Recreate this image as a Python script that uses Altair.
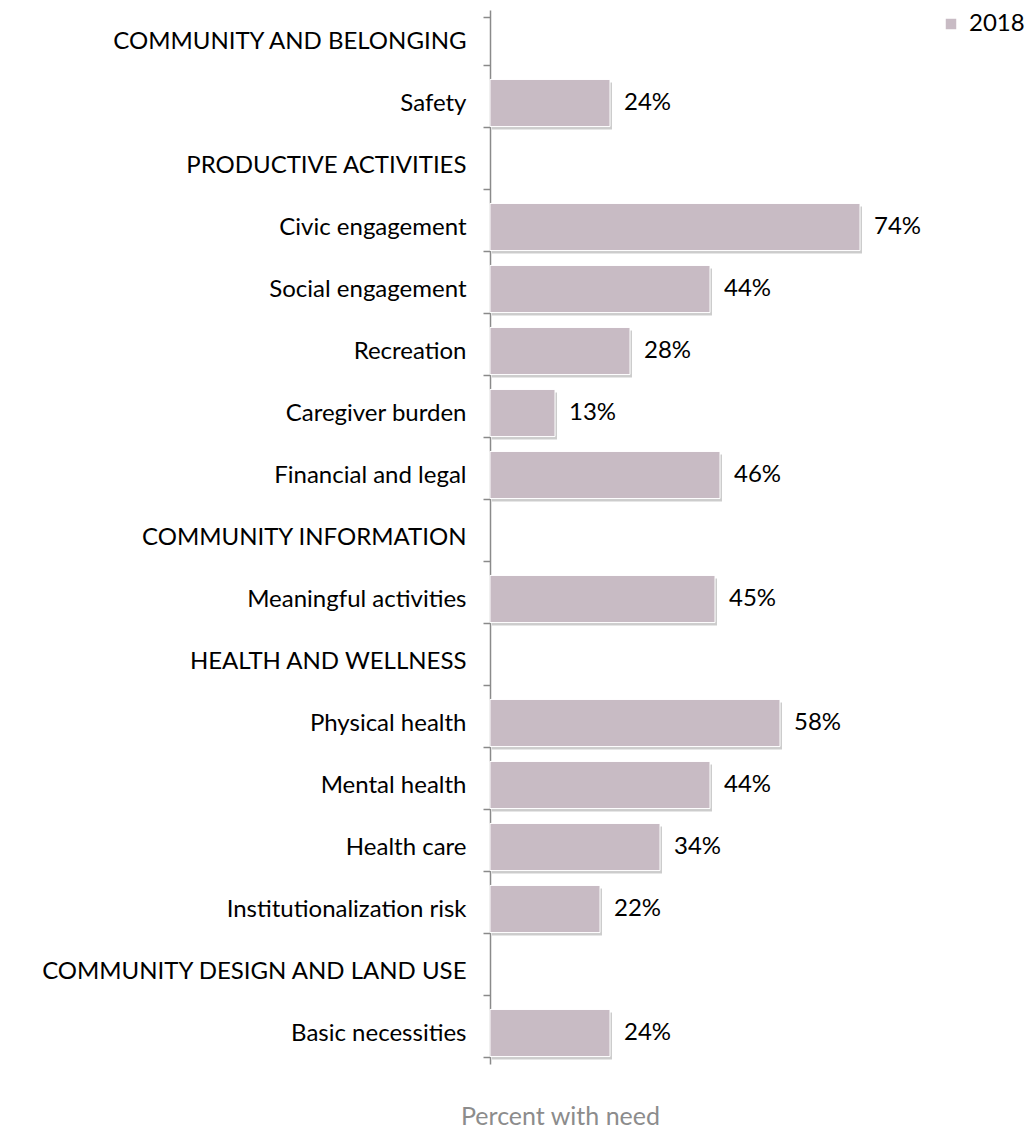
import altair as alt
import pandas as pd

categories = [
    "COMMUNITY AND BELONGING", "Safety",
    "PRODUCTIVE ACTIVITIES", "Civic engagement", "Social engagement", "Recreation",
    "Caregiver burden", "Financial and legal",
    "COMMUNITY INFORMATION", "Meaningful activities",
    "HEALTH AND WELLNESS", "Physical health", "Mental health", "Health care",
    "Institutionalization risk",
    "COMMUNITY DESIGN AND LAND USE", "Basic necessities",
]
values = [None, 24, None, 74, 44, 28, 13, 46, None, 45, None, 58, 44, 34, 22, None, 24]
series = "2018"

df = pd.DataFrame({"category": categories, "value": values})
df["series"] = series
bars_df = df.dropna().copy()
bars_df["label"] = bars_df["value"].astype(int).astype(str) + "%"

FONT = "Lato"
FS = 24
BAR = "#c8bbc4"

y_enc = alt.Y(
    "category:N",
    sort=categories,
    scale=alt.Scale(domain=categories, paddingInner=0.24, paddingOuter=0.12),
    axis=alt.Axis(
        title=None, tickBand="extent", tickSize=7, tickColor="#8a8a8a", tickWidth=1.5,
        domainColor="#8a8a8a", domainWidth=1.5, labelFont=FONT, labelFontSize=FS,
        labelColor="#000000", labelPadding=17, labelLimit=600,
    ),
)
x_scale = alt.Scale(domain=[0, 100])
x_axis = alt.Axis(
    labels=False, ticks=False, domain=False, grid=False, title="Percent with need",
    titleFont=FONT, titleFontSize=25, titleFontWeight="normal", titleColor="#8c8c8c",
    titleX=70, titleY=52, titleAlign="center", titleBaseline="middle",
)

base = alt.Chart(bars_df)

shadow = base.mark_bar(color="#8f8f8f", opacity=0.45, xOffset=2, yOffset=3).encode(
    x=alt.X("value:Q", scale=x_scale, axis=x_axis), y=y_enc
)
bars = base.mark_bar(stroke="#ffffff", strokeWidth=1).encode(
    x=alt.X("value:Q", scale=x_scale, axis=x_axis),
    y=y_enc,
    color=alt.Color(
        "series:N",
        scale=alt.Scale(domain=[series], range=[BAR]),
        legend=alt.Legend(
            title=None, orient="none", legendX=449, legendY=2, symbolType="square",
            symbolSize=110, symbolStrokeWidth=0, labelFont=FONT, labelFontSize=FS,
            labelColor="#000000", symbolOpacity=1, labelOffset=6,
        ),
    ),
)
text = base.mark_text(align="left", baseline="middle", dx=14, font=FONT, fontSize=FS,
                      color="#000000").encode(
    x=alt.X("value:Q", scale=x_scale), y=y_enc, text="label:N"
)

chart = (
    alt.layer(shadow, bars, text)
    .properties(
        width=500, height=1054,
        autosize=alt.AutoSizeParams(type="none"),
        padding={"left": 482, "top": 2, "right": 35, "bottom": 64},
        view=alt.ViewBackground(stroke="transparent", strokeWidth=0),
    )
    .configure_view(strokeWidth=0, stroke="transparent")
    .configure(background="#ffffff")
)

chart.save("out.html", embed_options={"renderer": "svg", "actions": False})
